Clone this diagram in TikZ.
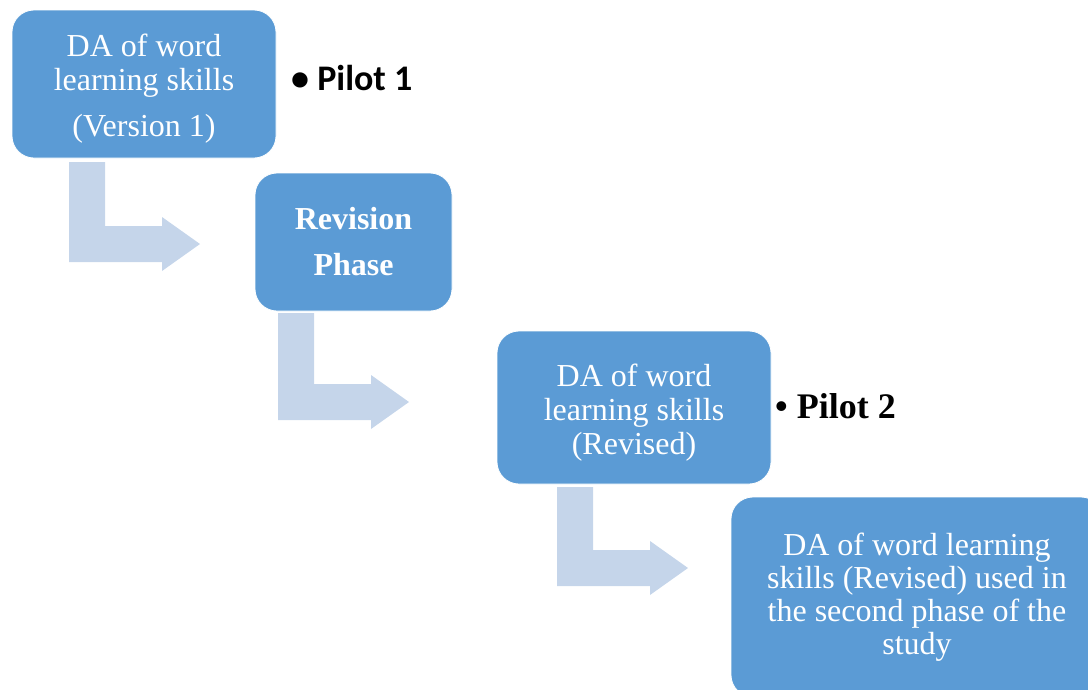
\documentclass[tikz,border=0pt]{standalone}
\usepackage{fontspec}
\setmainfont{Liberation Serif}
\newfontfamily\pilotfont{Carlito}
\definecolor{stageblue}{RGB}{91,155,213}
\definecolor{flowblue}{RGB}{197,213,234}
\tikzset{
stage/.style={draw=white, line width=0.8pt, fill=stageblue, rounded corners=22pt, align=center, text=white, inner sep=0pt, font=\fontsize{32}{34}\selectfont},
flow/.style={fill=flowblue, draw=none},
pilot/.style={anchor=base west, inner sep=0pt, font=\fontsize{36}{40}\selectfont\bfseries}
}
\newcommand{\bentarrow}[2]{%
\fill[flow, shift={(#1)}] (0,0) -- (36,0) -- (36,#2-36) -- (93,#2-36) -- (93,#2-45) -- (131,#2-18) -- (93,#2+9) -- (93,#2) -- (0,#2) -- cycle;}
\newcommand{\lowstrut}{\rule{0pt}{32pt}}

\begin{document}
\begin{tikzpicture}[x=1pt, y=-1pt]
\useasboundingbox (0,0) rectangle (1088,689);
\node[stage, minimum width=264pt, minimum height=148pt] (draft) at (144,84) {\lowstrut DA of word\\learning skills\\[12pt](Version 1)};
\node[stage, minimum width=197pt, minimum height=138pt, font=\fontsize{32}{34}\selectfont\bfseries] (revision) at (353.5,242) {Revision\\[12pt]Phase};
\node[stage, minimum width=274pt, minimum height=153pt] (revised) at (634,407.5) {\lowstrut DA of word\\learning skills\\(Revised)};
\node[stage, minimum width=372pt, minimum height=200pt, font=\fontsize{32}{33}\selectfont] (final) at (917,597) {DA of word learning\\skills (Revised) used in\\the second phase of the\\study};
\coordinate (bend1) at (69,162);
\coordinate (bend2) at (278,313);
\coordinate (bend3) at (557,487);
\bentarrow{bend1}{100}
\bentarrow{bend2}{107}
\bentarrow{bend3}{99}
\node[pilot, font=\fontsize{36}{40}\selectfont\bfseries\pilotfont] (pilot1) at (291,90) {\textbullet\ Pilot 1};
\node[pilot] (pilot2) at (775,418) {\textbullet\ Pilot 2};
\end{tikzpicture}
\end{document}
